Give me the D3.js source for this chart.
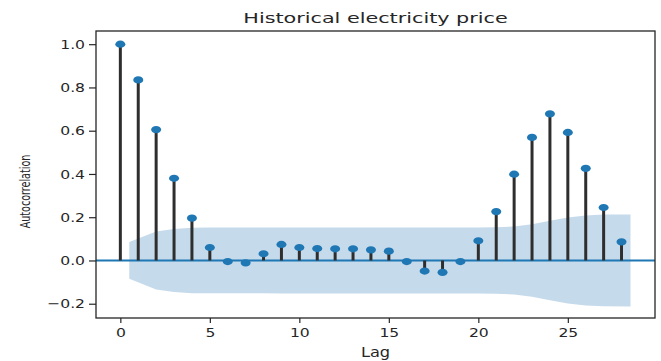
<!DOCTYPE html>
<html lang="en">
<head>
    <meta charset="UTF-8">
    <title>Historical electricity price - ACF</title>
    <style>
        body { margin: 0; background: #fff; }
        text { font-family: "DejaVu Sans", sans-serif; fill: #262626; }
    </style>
</head>
<body>
    <script src="https://d3js.org/d3.v7.min.js"></script>
    <script>
        // autocorrelation per lag
        const lags = d3.range(0, 29);
        const acf = [1.0, 0.835, 0.605, 0.38, 0.196, 0.06, -0.005, -0.011, 0.031, 0.074,
                     0.06, 0.055, 0.054, 0.054, 0.049, 0.043, -0.005, -0.049, -0.055, -0.005,
                     0.091, 0.226, 0.399, 0.569, 0.678, 0.592, 0.426, 0.245, 0.086];
        // confidence band half-width (lags 1..28), drawn from 0.5 to 28.5
        const bandLags = [0.5, 2, 3, 4, 5, 6, 7, 8, 9, 10, 11, 12, 13, 14, 15, 16, 17, 18, 19,
                          20, 21, 22, 23, 24, 25, 26, 27, 28.5];
        const band = [0.085, 0.134, 0.146, 0.151, 0.152, 0.152, 0.152, 0.152, 0.153, 0.153,
                      0.153, 0.153, 0.153, 0.153, 0.153, 0.153, 0.153, 0.153, 0.153, 0.153,
                      0.154, 0.157, 0.168, 0.184, 0.199, 0.208, 0.212, 0.213];
        const xTicks = [0, 5, 10, 15, 20, 25];
        const yTicks = [-0.2, 0.0, 0.2, 0.4, 0.6, 0.8, 1.0];

        const width = 661, height = 361;
        const mLeft = 96, mRight = 655, mTop = 31, mBottom = 318;
        const blue = "#1f77b4";

        const svg = d3.select("body").append("svg")
            .attr("width", width)
            .attr("height", height);

        const x = d3.scaleLinear().domain([-1.36, 29.87]).range([mLeft, mRight]);
        const y = d3.scaleLinear().domain([-0.266, 1.061]).range([mBottom, mTop]);

        // confidence band
        const area = d3.area()
            .x((d, i) => x(d))
            .y0((d, i) => y(-band[i]))
            .y1((d, i) => y(band[i]));
        svg.append("path")
            .datum(bandLags)
            .attr("d", area)
            .attr("fill", "#c5daeb");

        // zero line
        svg.append("line")
            .attr("x1", mLeft).attr("x2", mRight)
            .attr("y1", y(0)).attr("y2", y(0))
            .attr("stroke", blue)
            .attr("stroke-width", 2);

        // stems
        svg.selectAll(".stem")
            .data(lags)
            .enter()
            .append("line")
            .attr("class", "stem")
            .attr("x1", d => x(d)).attr("x2", d => x(d))
            .attr("y1", y(0))
            .attr("y2", d => y(acf[d]))
            .attr("stroke", "#2e2e2e")
            .attr("stroke-width", 3);

        // markers
        svg.selectAll(".dot")
            .data(lags)
            .enter()
            .append("ellipse")
            .attr("class", "dot")
            .attr("cx", d => x(d))
            .attr("cy", d => y(acf[d]))
            .attr("rx", 5)
            .attr("ry", 3.6)
            .attr("fill", blue);

        // axes
        const sx = 1.2;
        const xAxis = svg.append("g")
            .attr("transform", `translate(0,${mBottom})`)
            .call(d3.axisBottom(x).tickValues(xTicks).tickFormat(d3.format("d")).tickSize(5).tickPadding(5));
        xAxis.selectAll("text")
            .attr("font-size", 13)
            .attr("transform", `scale(${sx},1)`);

        const yAxis = svg.append("g")
            .attr("transform", `translate(${mLeft},0)`)
            .call(d3.axisLeft(y).tickValues(yTicks).tickFormat(d => d3.format(".1f")(d).replace("-", "\u2212")).tickSize(7));
        yAxis.selectAll("text")
            .attr("font-size", 13)
            .attr("x", -11 / sx)
            .attr("transform", `scale(${sx},1)`);

        svg.selectAll(".domain").remove();
        svg.selectAll(".tick line").attr("stroke", "#262626").attr("stroke-width", 1.2);

        // frame
        svg.append("rect")
            .attr("x", mLeft).attr("y", mTop)
            .attr("width", mRight - mLeft).attr("height", mBottom - mTop)
            .attr("fill", "none")
            .attr("stroke", "#262626")
            .attr("stroke-width", 1.3);

        // title and labels
        svg.append("text")
            .attr("transform", `translate(${(mLeft + mRight) / 2},23) scale(1.43,1)`)
            .attr("text-anchor", "middle")
            .attr("font-size", 14.5)
            .text("Historical electricity price");

        svg.append("text")
            .attr("transform", `translate(${(mLeft + mRight) / 2},357) scale(${sx},1)`)
            .attr("text-anchor", "middle")
            .attr("font-size", 13.5)
            .text("Lag");

        svg.append("text")
            .attr("transform", `translate(30,${(mTop + mBottom) / 2 + 17}) scale(1.5,1) rotate(-90)`)
            .attr("text-anchor", "middle")
            .attr("font-size", 9.6)
            .text("Autocorrelation");
    </script>
</body>
</html>
